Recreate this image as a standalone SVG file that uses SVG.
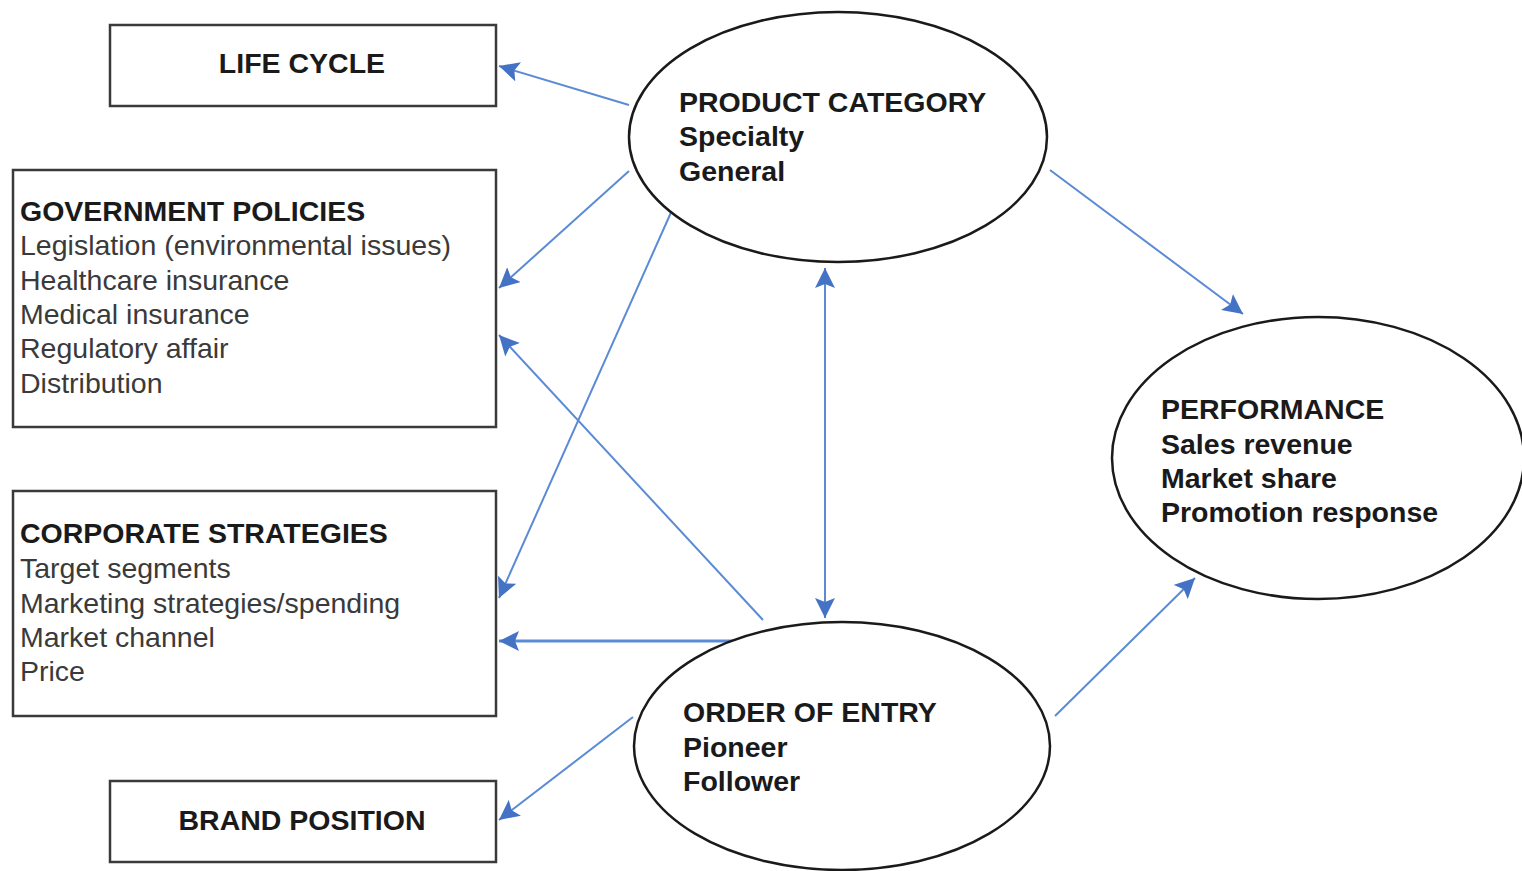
<svg xmlns="http://www.w3.org/2000/svg" width="1522" height="871" viewBox="0 0 1522 871">
  <style>
    .box { fill: #ffffff; stroke: #3a3a3a; stroke-width: 2.5; }
    .ell { fill: #ffffff; stroke: #1a1a1a; stroke-width: 2.5; }
    .t { font-family: "Liberation Sans", Arial, sans-serif; font-size: 28.5px; fill: #1a1a1a; }
    .b { font-weight: bold; }
    .r { fill: #3a3a3a; }
    .c { text-anchor: middle; }
    .link { stroke: #5b8bd5; stroke-width: 2; fill: none; marker-end: url(#head); }
  </style>
  <defs>
    <marker id="head" markerUnits="userSpaceOnUse" markerWidth="22" markerHeight="20" refX="20" refY="10" orient="auto">
      <path d="M0,0 L20,10 L0,20 L4,10 Z" fill="#4472c4"/>
    </marker>
    <marker id="tail" markerUnits="userSpaceOnUse" markerWidth="22" markerHeight="20" refX="0" refY="10" orient="auto">
      <path d="M20,0 L0,10 L20,20 L16,10 Z" fill="#4472c4"/>
    </marker>
  </defs>

  <g id="connectors">
    <line class="link" x1="629" y1="105" x2="499" y2="66"/>
    <line class="link" x1="629" y1="171" x2="499" y2="288"/>
    <line class="link" x1="673" y1="208" x2="499" y2="598"/>
    <line class="link" x1="763" y1="620" x2="499" y2="335"/>
    <line class="link" x1="735" y1="641" x2="499" y2="641" style="stroke-width:3"/>
    <line class="link" x1="633" y1="717" x2="499" y2="820"/>
    <line class="link" x1="825" y1="618" x2="825" y2="268" style="marker-start:url(#tail)"/>
    <line class="link" x1="1050" y1="170" x2="1243" y2="314"/>
    <line class="link" x1="1055" y1="716" x2="1195" y2="578"/>
  </g>

  <g id="life-cycle">
    <rect class="box" x="110" y="25" width="386" height="81"/>
    <text class="t b c" x="302" y="73">LIFE CYCLE</text>
  </g>

  <g id="government-policies">
    <rect class="box" x="13" y="170" width="483" height="257"/>
    <text class="t b" x="20" y="221">GOVERNMENT POLICIES</text>
    <text class="t r" x="20" y="255">Legislation (environmental issues)</text>
    <text class="t r" x="20" y="290">Healthcare insurance</text>
    <text class="t r" x="20" y="324">Medical insurance</text>
    <text class="t r" x="20" y="358">Regulatory affair</text>
    <text class="t r" x="20" y="393">Distribution</text>
  </g>

  <g id="corporate-strategies">
    <rect class="box" x="13" y="491" width="483" height="225"/>
    <text class="t b" x="20" y="543">CORPORATE STRATEGIES</text>
    <text class="t r" x="20" y="578">Target segments</text>
    <text class="t r" x="20" y="613">Marketing strategies/spending</text>
    <text class="t r" x="20" y="647">Market channel</text>
    <text class="t r" x="20" y="681">Price</text>
  </g>

  <g id="brand-position">
    <rect class="box" x="110" y="781" width="386" height="81"/>
    <text class="t b c" x="302" y="830">BRAND POSITION</text>
  </g>

  <g id="product-category">
    <ellipse class="ell" cx="838" cy="137" rx="209" ry="125"/>
    <text class="t b" x="679" y="112">PRODUCT CATEGORY</text>
    <text class="t b" x="679" y="146">Specialty</text>
    <text class="t b" x="679" y="181">General</text>
  </g>

  <g id="performance">
    <ellipse class="ell" cx="1318" cy="458" rx="206" ry="141"/>
    <text class="t b" x="1161" y="419">PERFORMANCE</text>
    <text class="t b" x="1161" y="454">Sales revenue</text>
    <text class="t b" x="1161" y="488">Market share</text>
    <text class="t b" x="1161" y="522">Promotion response</text>
  </g>

  <g id="order-of-entry">
    <ellipse class="ell" cx="842" cy="746" rx="208" ry="124"/>
    <text class="t b" x="683" y="722">ORDER OF ENTRY</text>
    <text class="t b" x="683" y="757">Pioneer</text>
    <text class="t b" x="683" y="791">Follower</text>
  </g>
</svg>
